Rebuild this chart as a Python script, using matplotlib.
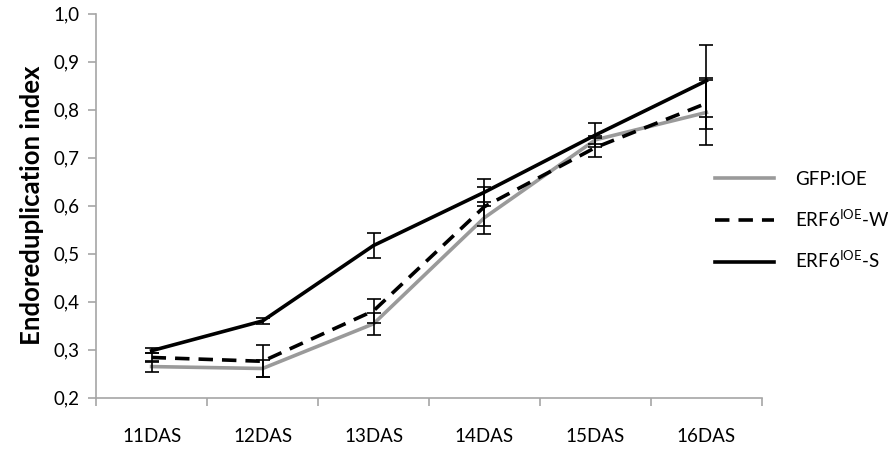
# Endoreduplication index over days after sowing
import numpy as np
import matplotlib.pyplot as plt

plt.rcParams['font.family'] = ['Lato', 'DejaVu Sans']

# data
days = ['11DAS', '12DAS', '13DAS', '14DAS', '15DAS', '16DAS']
gfp = [0.265, 0.261, 0.354, 0.575, 0.737, 0.794]
gfp_err = [0.012, 0.018, 0.023, 0.033, 0.008, 0.068]
erf6_w = [0.284, 0.276, 0.381, 0.598, 0.721, 0.813]
erf6_w_err = [0.010, 0.033, 0.025, 0.040, 0.020, 0.053]
erf6_s = [0.298, 0.360, 0.517, 0.628, 0.747, 0.860]
erf6_s_err = [0.005, 0.006, 0.026, 0.028, 0.025, 0.075]

x = np.arange(len(days))

fig = plt.figure(figsize=(8.9, 4.5), dpi=100)
ax = fig.add_axes([0.108, 0.116, 0.748, 0.854])

series = [
    (gfp, gfp_err, dict(color='#9a9a9a'), 'GFP:IOE'),
    (erf6_w, erf6_w_err, dict(color='black', dashes=(4, 2.5)),
     'ERF6$^{\\mathregular{IOE}}$-W'),
    (erf6_s, erf6_s_err, dict(color='black'), 'ERF6$^{\\mathregular{IOE}}$-S'),
]
for vals, errs, style, name in series:
    ax.plot(x, vals, lw=2.6, label=name, **style)
    ax.errorbar(x, vals, yerr=errs, fmt='none', ecolor='black',
                elinewidth=1.2, capsize=5, capthick=1.2)

ax.set_xlim(-0.5, len(days) - 0.5)
ax.set_ylim(0.2, 1.0)
yt = np.arange(0.2, 1.01, 0.1)
ax.set_yticks(yt)
ax.set_yticklabels([f'{v:.1f}'.replace('.', ',') for v in yt])
ax.set_xticks(x)
ax.set_xticklabels(days)
ax.set_xticks(np.arange(-0.5, len(days)), minor=True)

for s in ['top', 'right']:
    ax.spines[s].set_visible(False)
for s in ['left', 'bottom']:
    ax.spines[s].set_color('#a6a6a6')
    ax.spines[s].set_linewidth(1.2)

ax.tick_params(axis='y', colors='#a6a6a6', length=6, width=1.2,
               labelcolor='black', labelsize=13.5, pad=6)
ax.tick_params(axis='x', which='major', length=0, labelsize=13.5, pad=22)
ax.tick_params(axis='x', which='minor', colors='#a6a6a6', length=6, width=1.2)

ax.set_ylabel('Endoreduplication index', fontsize=18.5, fontweight='bold',
              labelpad=7)

ax.legend(loc='center left', bbox_to_anchor=(0.905, 0.46), frameon=False,
          fontsize=13.5, handlelength=3.1, labelspacing=1.05,
          handletextpad=1.15)

fig.savefig('out.png', dpi=100)
